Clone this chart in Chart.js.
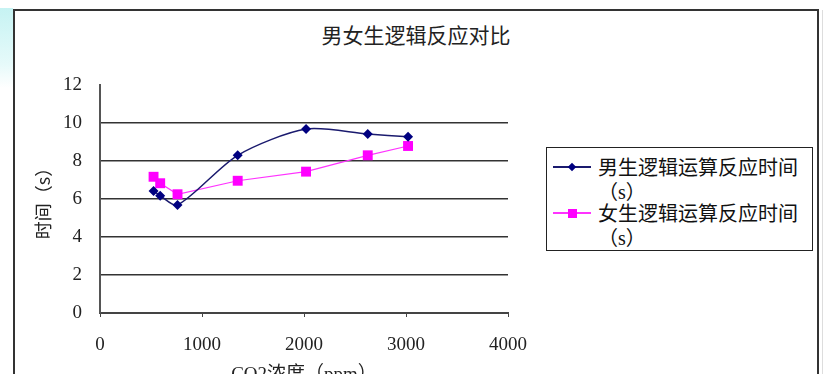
<!DOCTYPE html>
<html>
<head>
<meta charset="utf-8">
<script src="https://cdn.jsdelivr.net/npm/chart.js@4"></script>
<style>
  html, body { margin: 0; padding: 0; background: #fff; overflow: hidden; }
  #wrap { position: relative; width: 832px; height: 374px; overflow: hidden; }
  #glow { position: absolute; left: 0; top: 8px; width: 13px; height: 80px;
          background: linear-gradient(to bottom, #c6f3f3, #e6fafa 70%, #fff); }
  #frame { position: absolute; left: 13px; top: 9px; width: 802px; height: 400px; border: 2px solid #333; }
  #edge { position: absolute; left: 822px; top: 10px; width: 1px; height: 380px; background: #ddd; }
  #box { position: absolute; left: 0; top: 0; width: 832px; height: 390px; }
  #title { position: absolute; left: 216px; top: 20px; width: 400px; text-align: center;
           font: 21px 'Noto Sans CJK SC', sans-serif; color: #222; line-height: 28px; }
  #legend { position: absolute; left: 546px; top: 147px; width: 265px; height: 102px;
            border: 1px solid #222; background: #fff; color: #111;
            font: 20px 'Liberation Serif', 'Noto Sans CJK SC', serif; }
  .item { position: absolute; left: 0; }
  .sample { position: absolute; left: 6px; top: 11px; width: 38px; height: 0; }
  .sample .ln { position: absolute; left: 0; top: -1px; width: 38px; height: 2px; }
  .sample .mk { position: absolute; }
  .txt { position: absolute; left: 51px; top: 0; width: 214px; line-height: 24px; }
</style>
</head>
<body>
<div id="wrap">
  <div id="glow"></div>
  <div id="frame"></div>
  <div id="edge"></div>
  <div id="title">男女生逻辑反应对比</div>
  <div id="box"><canvas id="cv"></canvas></div>
  <div id="legend"></div>
</div>
<script>
// 数据
const co2 = [525, 590, 760, 1350, 2020, 2625, 3020];
const boyTime = [6.42, 6.17, 5.68, 8.3, 9.68, 9.42, 9.28];
const girlTime = [7.17, 6.83, 6.25, 6.96, 7.44, 8.3, 8.79];
const seriesNames = ['男生逻辑运算反应时间（s）', '女生逻辑运算反应时间（s）'];
const xTicks = [0, 1000, 2000, 3000, 4000];
const yTicks = [0, 2, 4, 6, 8, 10, 12];

const serif = "'Liberation Serif', 'Noto Sans CJK SC', serif";
const cjk = "'Noto Sans CJK SC', 'Liberation Serif', serif";

const chart = new Chart(document.getElementById('cv'), {
  type: 'line',
  data: {
    datasets: [
      {
        label: seriesNames[0],
        data: co2.map((x, i) => ({ x: x, y: boyTime[i] })),
        borderColor: '#1a1a6e',
        backgroundColor: '#000080',
        borderWidth: 1.5,
        tension: 0.27,
        pointStyle: 'rectRot',
        pointRadius: 5,
        pointBorderWidth: 0
      },
      {
        label: seriesNames[1],
        data: co2.map((x, i) => ({ x: x, y: girlTime[i] })),
        borderColor: '#ff33ff',
        backgroundColor: '#ff00ff',
        borderWidth: 1.2,
        tension: 0,
        pointStyle: 'rect',
        pointRadius: 7,
        pointBorderWidth: 0
      }
    ]
  },
  options: {
    responsive: true,
    maintainAspectRatio: false,
    animation: false,
    layout: { padding: { left: 28, right: 324, top: 85, bottom: 0 } },
    plugins: {
      legend: { display: false },
      tooltip: { enabled: false }
    },
    scales: {
      x: {
        type: 'linear',
        min: xTicks[0],
        max: xTicks[xTicks.length - 1],
        afterBuildTicks: s => { s.ticks = xTicks.map(v => ({ value: v })); },
        afterFit: s => { s.height = 77; s.paddingRight = 0; },
        border: { color: '#444', width: 2 },
        grid: { drawOnChartArea: false, drawTicks: true, tickLength: 4, color: '#444' },
        ticks: { color: '#222', padding: 17, font: { family: serif, size: 19 }, callback: v => String(v) },
        title: {
          display: true,
          text: 'CO2浓度（ppm）',
          color: '#222',
          font: { family: serif, size: 19 },
          padding: { top: 0, bottom: 4 }
        }
      },
      y: {
        min: yTicks[0],
        max: yTicks[yTicks.length - 1],
        afterBuildTicks: s => { s.ticks = yTicks.map(v => ({ value: v })); },
        afterFit: s => { s.width = 72; },
        border: { color: '#555', width: 2 },
        grid: {
          drawTicks: false,
          color: c => (c.tick.value === 0 || c.tick.value === 12) ? 'rgba(0,0,0,0)' : '#333',
          lineWidth: 1.5
        },
        ticks: { color: '#222', padding: 18, font: { family: serif, size: 19 }, callback: v => String(v) },
        title: {
          display: true,
          text: '时间（s）',
          color: '#222',
          font: { family: cjk, size: 18 },
          padding: { top: 4, bottom: 0 }
        }
      }
    }
  }
});

// 图例
const legend = document.getElementById('legend');
chart.data.datasets.forEach((ds, i) => {
  const item = document.createElement('div');
  item.className = 'item';
  item.style.top = (8 + i * 46) + 'px';
  const sample = document.createElement('div');
  sample.className = 'sample';
  const ln = document.createElement('div');
  ln.className = 'ln';
  ln.style.background = ds.borderColor;
  const mk = document.createElement('div');
  mk.className = 'mk';
  mk.style.background = ds.backgroundColor;
  if (ds.pointStyle === 'rectRot') {
    mk.style.width = '6px'; mk.style.height = '6px';
    mk.style.left = '16px'; mk.style.top = '-3px';
    mk.style.transform = 'rotate(45deg)';
  } else {
    mk.style.width = '9px'; mk.style.height = '9px';
    mk.style.left = '15px'; mk.style.top = '-4px';
  }
  sample.appendChild(ln);
  sample.appendChild(mk);
  const txt = document.createElement('div');
  txt.className = 'txt';
  txt.textContent = ds.label;
  item.appendChild(sample);
  item.appendChild(txt);
  legend.appendChild(item);
});
</script>
</body>
</html>
